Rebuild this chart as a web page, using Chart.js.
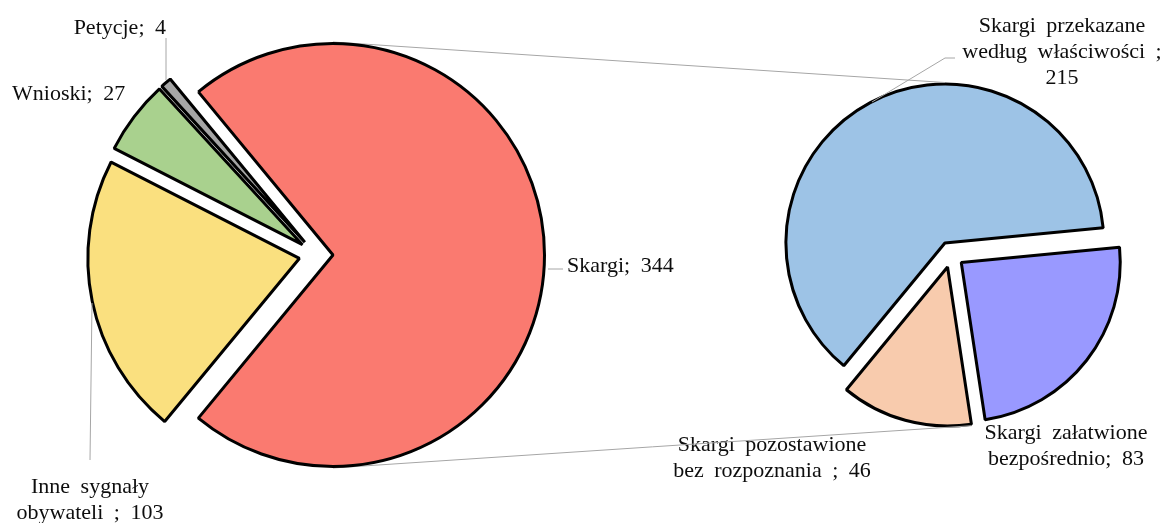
<!DOCTYPE html>
<html>
<head>
<meta charset="utf-8">
<script src="https://cdn.jsdelivr.net/npm/chart.js@4.4.0/dist/chart.umd.min.js"></script>
<style>
  html, body { margin: 0; padding: 0; background: #fff; }
  #wrap { position: relative; width: 1169px; height: 523px; overflow: hidden; }
  #wrap canvas { position: absolute; left: 0; top: 0; }
</style>
</head>
<body>
<div id="wrap">
  <canvas id="subChart" width="1169" height="523"></canvas>
  <canvas id="mainChart" width="1169" height="523"></canvas>
</div>
<script>
// first pie - all incoming cases
const mainLabels = ['Skargi', 'Inne sygnały obywateli ', 'Wnioski', 'Petycje'];
const mainValues = [344, 103, 27, 4];
const mainColors = ['#FA7A70', '#FAE07F', '#A9D18E', '#A5A5A5'];

// second pie - what happened with the "Skargi"
const subLabels = ['Skargi załatwione bezpośrednio', 'Skargi pozostawione bez rozpoznania ', 'Skargi przekazane według właściwości '];
const subValues = [83, 46, 215];
const subColors = ['#9999FF', '#F8CBAD', '#9DC3E6'];

// label placement, relative to the pie centre (first baseline)
const mainLabelPos = [
  { dx: 251, dy: 17, align: 'left', wrap: 200 },
  { dx: -226, dy: 238, align: 'center', wrap: 175 },
  { dx: -304, dy: -155, align: 'left', wrap: 200 },
  { dx: -150, dy: -221, align: 'right', wrap: 200 }
];
const subLabelPos = [
  { dx: 115, dy: 184.5, align: 'center', wrap: 180 },
  { dx: -179, dy: 196.5, align: 'center', wrap: 215 },
  { dx: 111, dy: -222.5, align: 'center', wrap: 210 }
];
// leader lines, relative to the pie centre
const mainLeaders = [[[232, 14], [247, 14]], [[-224, 48], [-226, 205]], null, [[-150, -217], [-150, -175]]];
const subLeaders = [null, null, [[-79, -152.5], [-6, -196.5], [4, -196.5]]];

const FONT = '22px "Liberation Serif", "Times New Roman", serif';
const BORDER = 3;

function wrapText(ctx, text, max) {
  const words = text.split(' ').filter(w => w.length);
  const lines = [];
  let cur = '';
  words.forEach(w => {
    const t = cur ? cur + ' ' + w : w;
    if (cur && ctx.measureText(t).width > max) {
      lines.push(cur);
      cur = w;
    } else {
      cur = t;
    }
  });
  if (cur) lines.push(cur);
  return lines;
}

// point on an exploded arc
function arcPoint(arc, dist, angle) {
  const mid = (arc.startAngle + arc.endAngle) / 2;
  const r = arc.outerRadius + BORDER / 2;
  return {
    x: arc.x + Math.cos(mid) * dist + Math.cos(angle) * r,
    y: arc.y + Math.sin(mid) * dist + Math.sin(angle) * r
  };
}

// draws every slice pushed out along its bisector
function explodePlugin(dist) {
  return {
    id: 'explode',
    beforeDatasetsDraw(chart) {
      const ctx = chart.ctx;
      chart.getDatasetMeta(0).data.forEach(arc => {
        const mid = (arc.startAngle + arc.endAngle) / 2;
        ctx.save();
        ctx.translate(Math.cos(mid) * dist, Math.sin(mid) * dist);
        arc.draw(ctx);
        ctx.restore();
      });
      return false;
    }
  };
}

function labelPlugin(labels, values, pos, leaders) {
  return {
    id: 'pieLabels',
    afterDraw(chart) {
      const ctx = chart.ctx;
      const c = chart.getDatasetMeta(0).data[0];
      ctx.save();
      ctx.strokeStyle = '#A6A6A6';
      ctx.lineWidth = 1;
      leaders.forEach(pts => {
        if (!pts) return;
        ctx.beginPath();
        pts.forEach((p, i) => {
          if (i === 0) ctx.moveTo(c.x + p[0], c.y + p[1]);
          else ctx.lineTo(c.x + p[0], c.y + p[1]);
        });
        ctx.stroke();
      });
      ctx.font = FONT;
      ctx.fillStyle = '#0d0d0d';
      ctx.textBaseline = 'alphabetic';
      ctx.wordSpacing = '5px';
      labels.forEach((lab, i) => {
        const p = pos[i];
        const lines = wrapText(ctx, lab + '; ' + values[i], p.wrap);
        ctx.textAlign = p.align;
        lines.forEach((ln, k) => {
          ctx.fillText(ln, c.x + p.dx, c.y + p.dy + k * 26);
        });
      });
      ctx.restore();
    }
  };
}

const pieOptions = {
  responsive: false,
  animation: false,
  events: [],
  plugins: { legend: { display: false }, tooltip: { enabled: false } }
};

const subChart = new Chart(document.getElementById('subChart'), {
  type: 'pie',
  data: {
    labels: subLabels,
    datasets: [{
      data: subValues,
      backgroundColor: subColors,
      borderColor: '#000',
      borderWidth: BORDER
    }]
  },
  options: Object.assign({}, pieOptions, {
    rotation: 84.5,
    radius: 159,
    layout: { padding: { left: 733, right: 0, top: 0, bottom: 14 } }
  }),
  plugins: [explodePlugin(13), labelPlugin(subLabels, subValues, subLabelPos, subLeaders)]
});

// lines joining the "Skargi" slice with the second pie
const connectorPlugin = {
  id: 'connectors',
  beforeDatasetsDraw(chart) {
    const red = chart.getDatasetMeta(0).data[0];
    const sub = subChart.getDatasetMeta(0).data;
    const blue = sub[2];
    const peach = sub[1];
    const a = arcPoint(red, 17, -Math.PI / 2);
    const b = arcPoint(blue, 13, -Math.PI / 2);
    const c = arcPoint(red, 17, Math.PI / 2);
    const d = arcPoint(peach, 13, peach.startAngle);
    const ctx = chart.ctx;
    ctx.save();
    ctx.strokeStyle = '#A6A6A6';
    ctx.lineWidth = 1;
    ctx.beginPath();
    ctx.moveTo(a.x, a.y);
    ctx.lineTo(b.x, b.y);
    ctx.moveTo(c.x, c.y);
    ctx.lineTo(d.x, d.y);
    ctx.stroke();
    ctx.restore();
  }
};

const mainTotal = mainValues.reduce((s, v) => s + v, 0);
new Chart(document.getElementById('mainChart'), {
  type: 'pie',
  data: {
    labels: mainLabels,
    datasets: [{
      data: mainValues,
      backgroundColor: mainColors,
      borderColor: '#000',
      borderWidth: BORDER
    }]
  },
  options: Object.assign({}, pieOptions, {
    // centre the first slice on the right-hand side
    rotation: 90 - mainValues[0] / mainTotal * 180,
    radius: 211.5,
    layout: { padding: { left: 0, right: 537, top: 0, bottom: 13 } }
  }),
  plugins: [connectorPlugin, explodePlugin(17), labelPlugin(mainLabels, mainValues, mainLabelPos, mainLeaders)]
});
</script>
</body>
</html>
